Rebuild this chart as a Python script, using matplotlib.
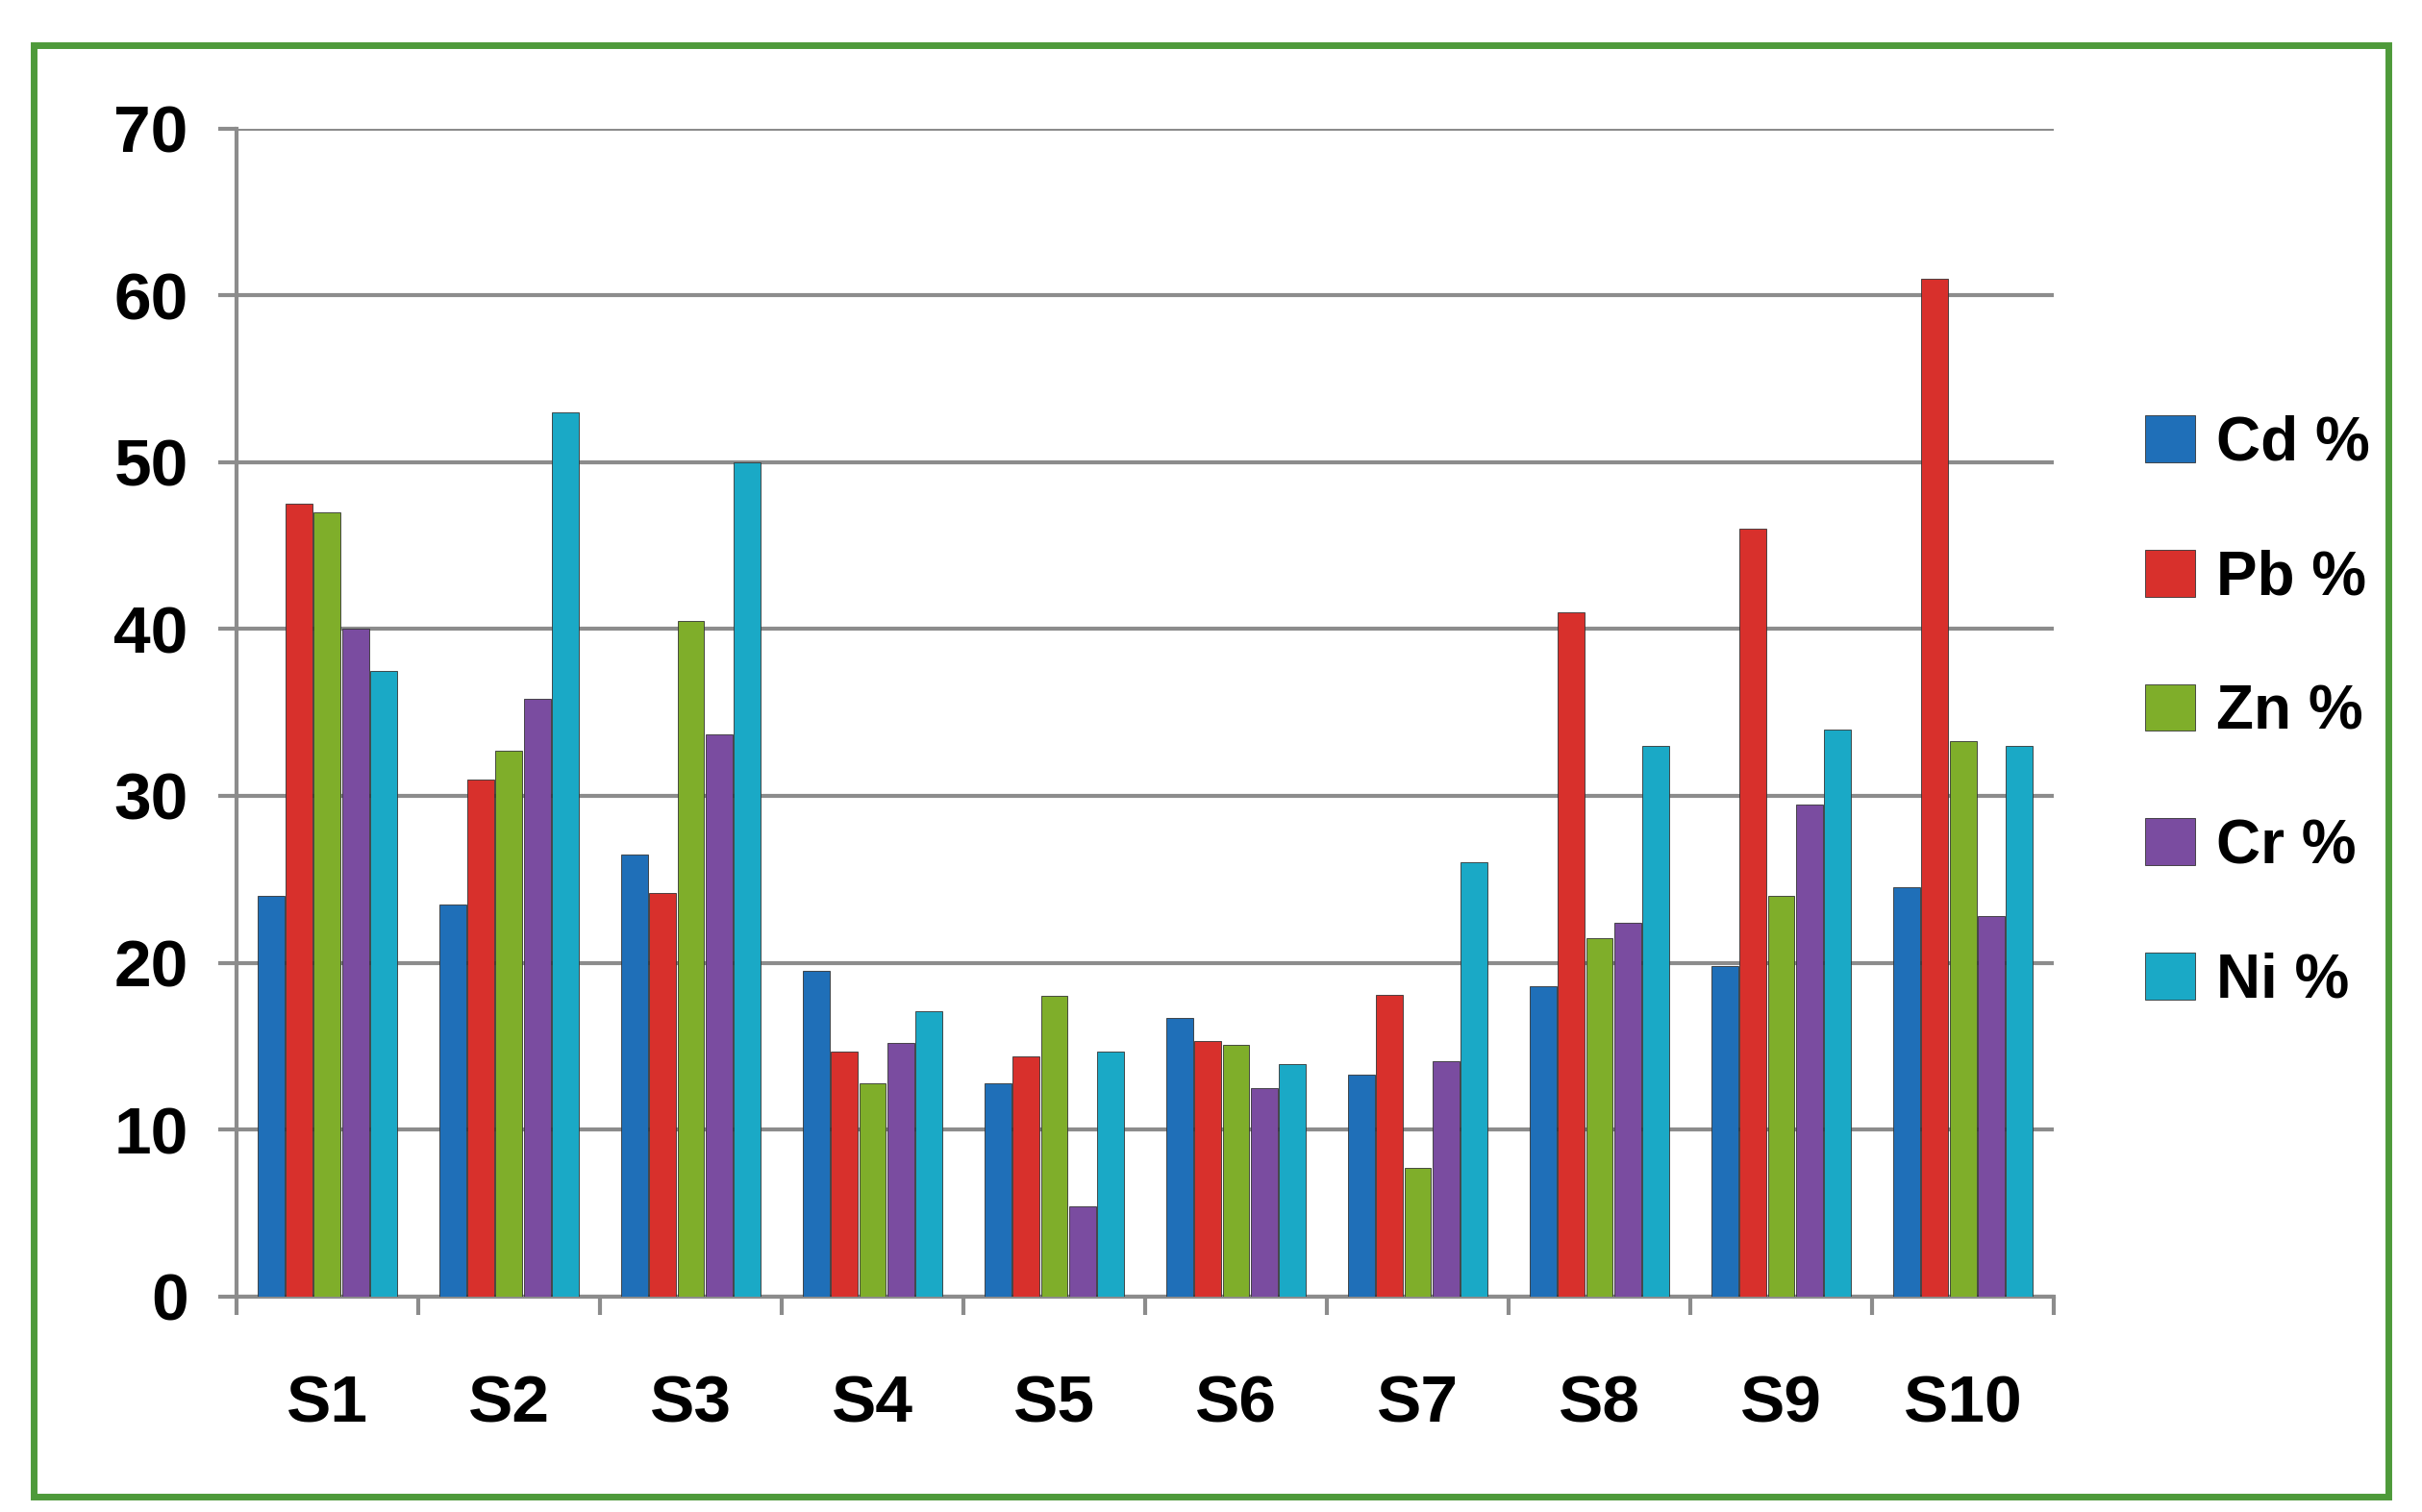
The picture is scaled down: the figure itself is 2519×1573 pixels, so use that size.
import numpy as np
import matplotlib
matplotlib.use("Agg")
from matplotlib import pyplot as plt
from matplotlib.patches import Rectangle

sites = ["S1", "S2", "S3", "S4", "S5", "S6", "S7", "S8", "S9", "S10"]
cd = [24, 23.5, 26.5, 19.5, 12.8, 16.7, 13.3, 18.6, 19.8, 24.5]
pb = [47.5, 31, 24.2, 14.7, 14.4, 15.3, 18.1, 41, 46, 61]
zn = [47, 32.7, 40.5, 12.8, 18, 15.1, 7.7, 21.5, 24, 33.3]
cr = [40, 35.8, 33.7, 15.2, 5.4, 12.5, 14.1, 22.4, 29.5, 22.8]
ni = [37.5, 53, 50, 17.1, 14.7, 13.9, 26, 33, 34, 33]
series = [("Cd %", cd, "#1f6fb8"), ("Pb %", pb, "#d8302c"), ("Zn %", zn, "#7fae2a"),
          ("Cr %", cr, "#7a4ca0"), ("Ni %", ni, "#1aa9c6")]

plt.rcParams['font.family'] = ['Liberation Sans', 'DejaVu Sans']
plt.rcParams['font.weight'] = 'bold'

fig = plt.figure(figsize=(25.19, 15.73), dpi=100)
fig.patches.append(Rectangle((0.014, 0.01), 0.972, 0.96, transform=fig.transFigure,
                             fill=False, edgecolor="#4e9a3a", linewidth=5))
ax = fig.add_axes([0.0976, 0.1426, 0.7504, 0.7724])

x = np.arange(len(sites))
w = 0.155
for i, (name, vals, col) in enumerate(series):
    ax.bar(x + (i - 2) * w, vals, w * 0.95, color=col, edgecolor="#333333",
           linewidth=0.6, label=name, zorder=3)

ax.set_ylim(0, 70)
ax.set_xlim(-0.5, 9.5)
ax.set_yticks(range(0, 71, 10))
ax.yaxis.grid(True, color="#8c8c8c", linewidth=3)
ax.set_axisbelow(True)
ax.set_xticks(np.arange(-0.5, 10, 1), minor=False)
ax.set_xticklabels([])
ax.set_xticks(x, minor=True)
ax.set_xticklabels(sites, minor=True)
ax.tick_params(axis='x', which='minor', length=0, pad=58, labelsize=50)
ax.tick_params(axis='x', which='major', length=14, width=3, color="#8c8c8c")
ax.tick_params(axis='y', labelsize=50, length=14, width=3, color="#8c8c8c", pad=22)
for s in ["top", "right"]:
    ax.spines[s].set_visible(False)
for s in ["left", "bottom"]:
    ax.spines[s].set_color("#8c8c8c")
    ax.spines[s].set_linewidth(3)

ax.legend(loc="center left", bbox_to_anchor=(1.02, 0.5), frameon=False,
          fontsize=46, handlelength=0.8, handleheight=0.8, labelspacing=1.25,
          handletextpad=0.35)
fig.savefig("out.png", dpi=100)
